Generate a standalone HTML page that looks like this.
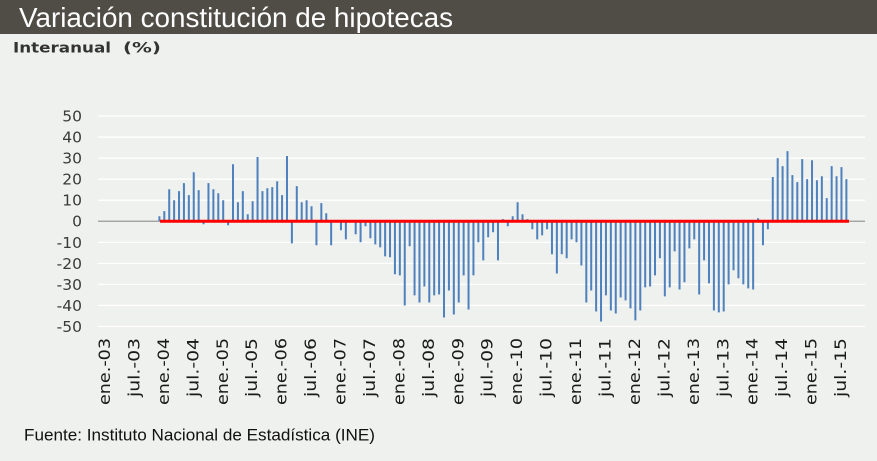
<!DOCTYPE html>
<html>
<head>
<meta charset="utf-8">
<style>
html,body{margin:0;padding:0;background:#eff1ee;}
svg{display:block;}
</style>
</head>
<body>
<svg width="877" height="461" viewBox="0 0 877 461" xmlns="http://www.w3.org/2000/svg">
<rect x="0" y="0" width="877" height="461" fill="#eff1ee"/>
<rect x="0" y="0" width="877" height="34" fill="#4f4d46"/>
<text x="19" y="27" font-family="Liberation Sans, Arial, sans-serif" font-size="27.5" fill="#ffffff" textLength="434" lengthAdjust="spacingAndGlyphs">Variación constitución de hipotecas</text>
<text x="13" y="52.3" font-family="DejaVu Sans, Verdana, sans-serif" font-weight="bold" font-size="14.5" fill="#333333" textLength="98" lengthAdjust="spacingAndGlyphs">Interanual</text>
<text x="123" y="52.3" font-family="DejaVu Sans, Verdana, sans-serif" font-weight="bold" font-size="14.5" fill="#333333" textLength="38" lengthAdjust="spacingAndGlyphs">(%)</text>

<!-- gridlines -->
<g stroke="#ffffff" stroke-width="1.3">
<line x1="98" x2="865" y1="116" y2="116"/>
<line x1="98" x2="865" y1="137.05" y2="137.05"/>
<line x1="98" x2="865" y1="158.1" y2="158.1"/>
<line x1="98" x2="865" y1="179.15" y2="179.15"/>
<line x1="98" x2="865" y1="200.2" y2="200.2"/>
<line x1="98" x2="865" y1="242.3" y2="242.3"/>
<line x1="98" x2="865" y1="263.35" y2="263.35"/>
<line x1="98" x2="865" y1="284.4" y2="284.4"/>
<line x1="98" x2="865" y1="305.45" y2="305.45"/>
<line x1="98" x2="865" y1="326.5" y2="326.5"/>
</g>
<line x1="98" x2="865" y1="221.25" y2="221.25" stroke="#9a9a9a" stroke-width="1.3"/>

<!-- y labels -->
<g font-family="DejaVu Sans, Verdana, sans-serif" font-size="15.5" fill="#3a3a3a" text-anchor="end">
<text x="82" y="121.5">50</text>
<text x="82" y="142.5">40</text>
<text x="82" y="163.6">30</text>
<text x="82" y="184.6">20</text>
<text x="82" y="205.7">10</text>
<text x="82" y="226.7">0</text>
<text x="82" y="247.8">-10</text>
<text x="82" y="268.8">-20</text>
<text x="82" y="289.9">-30</text>
<text x="82" y="310.9">-40</text>
<text x="82" y="332">-50</text>
</g>

<!-- bars -->
<g transform="translate(159.4,221.25) scale(4.907,-2.105)">
<path fill="none" stroke="#4f81bd" stroke-width="0.41" d="M0 0V2.4M1 0V4.8M2 0V15.2M3 0V10M4 0V14.3M5 0V18.1M6 0V12.4M7 0V23.3M8 0V14.8M9 0V-1.4M10 0V18.1M11 0V15.2M12 0V13.3M13 0V10M14 0V-1.9M15 0V27.1M16 0V9M17 0V14.3M18 0V3.3M19 0V9.5M20 0V30.5M21 0V14.3M22 0V15.7M23 0V16.2M24 0V19M25 0V12.4M26 0V31M27 0V-10.5M28 0V16.7M29 0V9M30 0V10M31 0V7.1M32 0V-11.4M33 0V8.6M34 0V3.8M35 0V-11.4M36 0V0.3M37 0V-4.3M38 0V-8.6M39 0V-0.5M40 0V-6.2M41 0V-10M42 0V-2.4M43 0V-8.1M44 0V-11M45 0V-12.4M46 0V-16.7M47 0V-17.1M48 0V-25.2M49 0V-25.7M50 0V-40M51 0V-11.9M52 0V-35.2M53 0V-38.6M54 0V-31M55 0V-38.6M56 0V-35.2M57 0V-34.8M58 0V-45.7M59 0V-32.9M60 0V-44.3M61 0V-38.6M62 0V-25.7M63 0V-41.9M64 0V-25.7M65 0V-10M66 0V-18.6M67 0V-7.6M68 0V-5.2M69 0V-18.6M70 0V1M71 0V-2.4M72 0V2.4M73 0V9M74 0V3.3M75 0V1M76 0V-3.8M77 0V-8.6M78 0V-6.7M79 0V-3.8M80 0V-15.7M81 0V-24.8M82 0V-15.7M83 0V-17.6M84 0V-8.6M85 0V-10M86 0V-21M87 0V-38.6M88 0V-32.9M89 0V-42.9M90 0V-47.6M91 0V-35.2M92 0V-42.4M93 0V-43.8M94 0V-36.2M95 0V-37.6M96 0V-41.4M97 0V-47.1M98 0V-42.4M99 0V-31.4M100 0V-31M101 0V-25.7M102 0V-17.6M103 0V-35.7M104 0V-31.4M105 0V-14.3M106 0V-32.4M107 0V-29M108 0V-12.9M109 0V-8.6M110 0V-34.8M111 0V-18.6M112 0V-29.5M113 0V-42.4M114 0V-43.3M115 0V-42.9M116 0V-30M117 0V-23.3M118 0V-27.1M119 0V-30M120 0V-31.9M121 0V-32.4M122 0V1.4M123 0V-11.4M124 0V-3.8M125 0V21M126 0V30M127 0V26.2M128 0V33.3M129 0V21.9M130 0V18.6M131 0V29.5M132 0V20M133 0V29M134 0V19.5M135 0V21.4M136 0V11M137 0V26.2M138 0V21.4M139 0V25.7M140 0V20"/>
</g>

<!-- red zero line -->
<line x1="160" x2="849" y1="221.3" y2="221.3" stroke="#ff0000" stroke-width="3"/>

<!-- x labels -->
<g font-family="DejaVu Sans, Verdana, sans-serif" font-size="16" fill="#1a1a1a" text-anchor="end">
<text transform="translate(110,338) rotate(-90)" textLength="67" lengthAdjust="spacingAndGlyphs">ene.-03</text>
<text transform="translate(139.4,338) rotate(-90)" textLength="59" lengthAdjust="spacingAndGlyphs">jul.-03</text>
<text transform="translate(168.9,338) rotate(-90)" textLength="67" lengthAdjust="spacingAndGlyphs">ene.-04</text>
<text transform="translate(198.3,338) rotate(-90)" textLength="59" lengthAdjust="spacingAndGlyphs">jul.-04</text>
<text transform="translate(227.8,338) rotate(-90)" textLength="67" lengthAdjust="spacingAndGlyphs">ene.-05</text>
<text transform="translate(257.2,338) rotate(-90)" textLength="59" lengthAdjust="spacingAndGlyphs">jul.-05</text>
<text transform="translate(286.7,338) rotate(-90)" textLength="67" lengthAdjust="spacingAndGlyphs">ene.-06</text>
<text transform="translate(316.1,338) rotate(-90)" textLength="59" lengthAdjust="spacingAndGlyphs">jul.-06</text>
<text transform="translate(345.5,338) rotate(-90)" textLength="67" lengthAdjust="spacingAndGlyphs">ene.-07</text>
<text transform="translate(375,338) rotate(-90)" textLength="59" lengthAdjust="spacingAndGlyphs">jul.-07</text>
<text transform="translate(404.4,338) rotate(-90)" textLength="67" lengthAdjust="spacingAndGlyphs">ene.-08</text>
<text transform="translate(433.9,338) rotate(-90)" textLength="59" lengthAdjust="spacingAndGlyphs">jul.-08</text>
<text transform="translate(463.3,338) rotate(-90)" textLength="67" lengthAdjust="spacingAndGlyphs">ene.-09</text>
<text transform="translate(492.7,338) rotate(-90)" textLength="59" lengthAdjust="spacingAndGlyphs">jul.-09</text>
<text transform="translate(522.2,338) rotate(-90)" textLength="67" lengthAdjust="spacingAndGlyphs">ene.-10</text>
<text transform="translate(551.6,338) rotate(-90)" textLength="59" lengthAdjust="spacingAndGlyphs">jul.-10</text>
<text transform="translate(581.1,338) rotate(-90)" textLength="67" lengthAdjust="spacingAndGlyphs">ene.-11</text>
<text transform="translate(610.5,338) rotate(-90)" textLength="59" lengthAdjust="spacingAndGlyphs">jul.-11</text>
<text transform="translate(640,338) rotate(-90)" textLength="67" lengthAdjust="spacingAndGlyphs">ene.-12</text>
<text transform="translate(669.4,338) rotate(-90)" textLength="59" lengthAdjust="spacingAndGlyphs">jul.-12</text>
<text transform="translate(698.8,338) rotate(-90)" textLength="67" lengthAdjust="spacingAndGlyphs">ene.-13</text>
<text transform="translate(728.3,338) rotate(-90)" textLength="59" lengthAdjust="spacingAndGlyphs">jul.-13</text>
<text transform="translate(757.7,338) rotate(-90)" textLength="67" lengthAdjust="spacingAndGlyphs">ene.-14</text>
<text transform="translate(787.2,338) rotate(-90)" textLength="59" lengthAdjust="spacingAndGlyphs">jul.-14</text>
<text transform="translate(816.6,338) rotate(-90)" textLength="67" lengthAdjust="spacingAndGlyphs">ene.-15</text>
<text transform="translate(846.1,338) rotate(-90)" textLength="59" lengthAdjust="spacingAndGlyphs">jul.-15</text>
</g>

<text x="24" y="440.5" font-family="Liberation Sans, Arial, sans-serif" font-size="16.5" fill="#111111" textLength="351" lengthAdjust="spacingAndGlyphs">Fuente: Instituto Nacional de Estadística (INE)</text>
</svg>
</body>
</html>
